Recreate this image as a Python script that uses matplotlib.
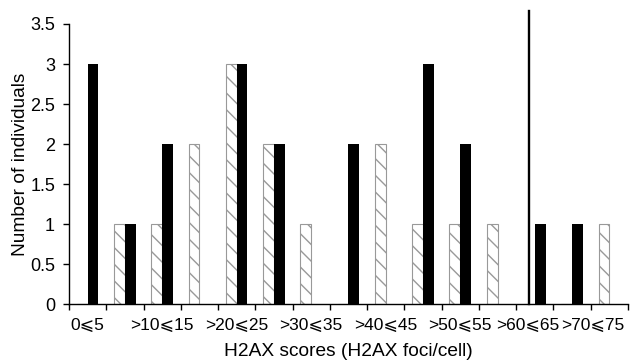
import matplotlib
matplotlib.use("Agg")
import matplotlib.pyplot as plt
import numpy as np

plt.rcParams['font.family'] = ['Liberation Sans', 'DejaVu Sans']
plt.rcParams['hatch.color'] = '#505050'
plt.rcParams['hatch.linewidth'] = 1.0

# bins of H2AX foci per cell
bins = ["0⩽5", ">5⩽10", ">10⩽15", ">15⩽20", ">20⩽25", ">25⩽30", ">30⩽35",
        ">35⩽40", ">40⩽45", ">45⩽50", ">50⩽55", ">55⩽60", ">60⩽65",
        ">65⩽70", ">70⩽75"]
# hatched bars (left) and black bars (right)
hatched = [0, 1, 1, 2, 3, 2, 1, 0, 2, 1, 1, 1, 0, 0, 1]
black = [3, 1, 2, 0, 3, 2, 0, 2, 0, 3, 2, 0, 1, 1, 0]
cutoff = 11.85

fig = plt.figure(figsize=(6.34, 3.63), dpi=100)
ax = fig.add_axes([0.1088, 0.1617, 0.8817, 0.7723])

x = np.arange(len(bins))
w = 0.29
ax.bar(x - w/2, hatched, w, color='white', edgecolor='#999999',
       linewidth=0.8, hatch='\\\\')
ax.bar(x + w/2, black, w, color='black', edgecolor='black', linewidth=0)

ax.plot([cutoff, cutoff], [0, 3.66], color='black', lw=1.7, clip_on=False)

ax.set_xlim(-0.5, len(bins) - 0.5)
ax.set_ylim(0, 3.5)
ax.set_yticks(np.arange(0, 3.6, 0.5))
ax.set_yticklabels(["0", "0.5", "1", "1.5", "2", "2.5", "3", "3.5"])

# ticks at bin edges, labels under every other bin
ax.set_xticks(np.arange(-0.5, len(bins), 1))
ax.set_xticklabels([])
lab_pos = x[::2].astype(float)
lab_pos[-2] -= 0.2   # last two labels sit a bit left in the original
lab_pos[-1] -= 0.45
ax.set_xticks(lab_pos, minor=True)
ax.set_xticklabels(bins[::2], minor=True)
ax.tick_params(axis='x', which='minor', length=0, pad=10, labelsize=12.5)
ax.tick_params(axis='both', which='major', length=4, width=1,
               labelsize=13, direction='out')
ax.tick_params(axis='y', pad=6)

for s in ['top', 'right']:
    ax.spines[s].set_visible(False)
for s in ['left', 'bottom']:
    ax.spines[s].set_linewidth(1)

ax.set_xlabel("H2AX scores (H2AX foci/cell)", fontsize=13.8, labelpad=7)
ax.set_ylabel("Number of individuals", fontsize=13.8, labelpad=1)

fig.savefig("out.png", dpi=100)
